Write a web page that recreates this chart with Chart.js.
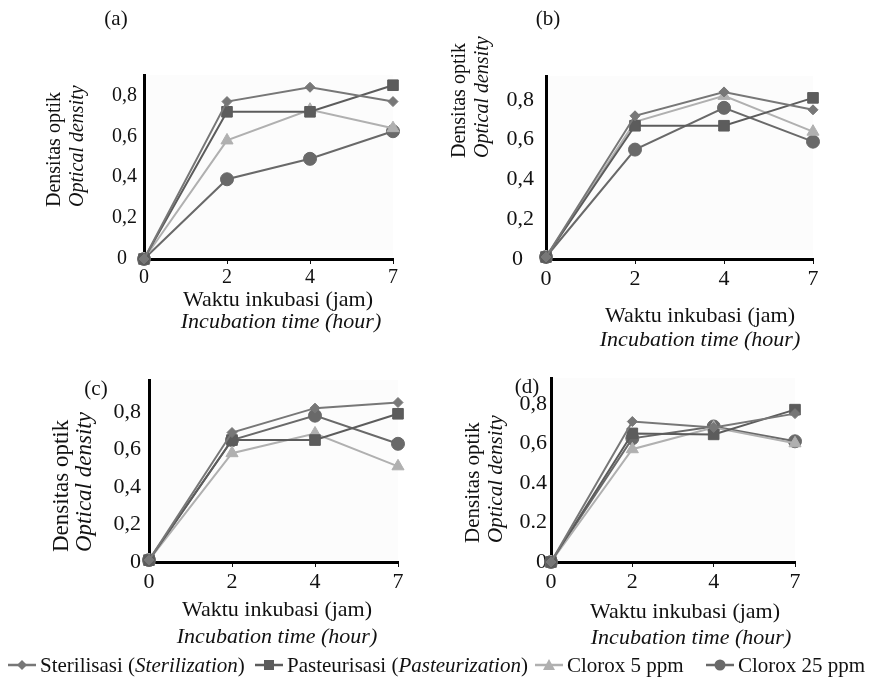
<!DOCTYPE html>
<html>
<head>
<meta charset="utf-8">
<script src="https://cdn.jsdelivr.net/npm/chart.js@4.4.1/dist/chart.umd.min.js"></script>
<style>
  body { margin: 0; background: #fff; width: 875px; height: 681px; position: relative; overflow: hidden; font-family: "Liberation Serif", serif; color: #111; }
  canvas.panel { position: absolute; }
  .item { position: absolute; top: 652px; height: 26px; display: flex; align-items: center; white-space: nowrap; font-size: 21px; }
  .item svg { margin-right: 4px; }
</style>
</head>
<body>
<canvas id="pa" class="panel"></canvas>
<canvas id="pb" class="panel"></canvas>
<canvas id="pc" class="panel"></canvas>
<canvas id="pd" class="panel"></canvas>
<div id="legend"></div>

<script>
// x categories (hours)
const hours = ['0', '2', '4', '7'];
const seriesNames = ['Sterilisasi', 'Pasteurisasi', 'Clorox 5 ppm', 'Clorox 25 ppm'];

// (a)
const sterA  = [0, 0.77, 0.84, 0.77];
const pastA  = [0, 0.72, 0.72, 0.85];
const clx5A  = [0, 0.58, 0.73, 0.64];
const clx25A = [0, 0.39, 0.49, 0.625];
// (b)
const sterB  = [0.01, 0.72, 0.84, 0.75];
const pastB  = [0.01, 0.67, 0.67, 0.81];
const clx5B  = [0.01, 0.69, 0.82, 0.64];
const clx25B = [0.01, 0.55, 0.76, 0.59];
// (c)
const sterC  = [0.01, 0.69, 0.82, 0.85];
const pastC  = [0.01, 0.65, 0.65, 0.79];
const clx5C  = [0.01, 0.58, 0.685, 0.51];
const clx25C = [0.01, 0.65, 0.78, 0.63];
// (d)
const sterD  = [0, 0.71, 0.68, 0.75];
const pastD  = [0, 0.65, 0.645, 0.77];
const clx5D  = [0, 0.57, 0.68, 0.60];
const clx25D = [0, 0.625, 0.685, 0.61];

const yTickVals = [0, 0.2, 0.4, 0.6, 0.8];
// in (a) and (b) the "0" sits centred under the other labels
const yTickLabelsAB = ['0\u2007', '0,2', '0,4', '0,6', '0,8'];
const yTickLabelsC = ['0', '0,2', '0,4', '0,6', '0,8'];
const yTickLabelsD = ['0', '0.2', '0.4', '0,6', '0,8'];

const yTitle = ['Densitas optik', 'Optical density'];
const xTitle = ['Waktu inkubasi (jam)', 'Incubation time (hour)'];

// marker look per series
const looks = [
  { color: '#777777', style: 'rectRot',  r: 5 },
  { color: '#5c5c5c', style: 'rect',     r: 7.5 },
  { color: '#b0b0b0', style: 'triangle', r: 7 },
  { color: '#696969', style: 'circle',   r: 6.5 }
];

const SERIF = '"Liberation Serif", "Times New Roman", serif';

// draws plot background, panel label and the two-line axis titles
const panelText = {
  id: 'panelText',
  beforeDatasetsDraw(chart) {
    const { ctx, chartArea: a } = chart;
    ctx.save();
    ctx.fillStyle = '#fcfcfc';
    ctx.fillRect(a.left + 2, a.top, a.right - a.left - 2, a.bottom - a.top - 2);
    ctx.restore();
  },
  afterDraw(chart, args, o) {
    const ctx = chart.ctx;
    ctx.save();
    ctx.fillStyle = '#111';
    ctx.textBaseline = 'middle';
    ctx.textAlign = 'center';
    ctx.font = o.labelSize + 'px ' + SERIF;
    ctx.fillText(o.label, o.labelPos[0], o.labelPos[1]);

    ctx.font = o.xSize + 'px ' + SERIF;
    ctx.fillText(xTitle[0], o.x1[0], o.x1[1]);
    ctx.font = 'italic ' + o.xSize + 'px ' + SERIF;
    ctx.fillText(xTitle[1], o.x2[0], o.x2[1]);

    ctx.textAlign = 'left';
    ctx.save();
    ctx.translate(o.y1, o.yBottom);
    ctx.rotate(-Math.PI / 2);
    ctx.font = o.ySize + 'px ' + SERIF;
    ctx.fillText(yTitle[0], 0, 0);
    ctx.restore();
    ctx.save();
    ctx.translate(o.y2, o.yBottom);
    ctx.rotate(-Math.PI / 2);
    ctx.font = 'italic ' + o.ySize + 'px ' + SERIF;
    ctx.fillText(yTitle[1], 0, 0);
    ctx.restore();
    ctx.restore();
  }
};

function makePanel(p) {
  const cv = document.getElementById(p.id);
  cv.width = p.box[2];
  cv.height = p.box[3];
  cv.style.left = p.box[0] + 'px';
  cv.style.top = p.box[1] + 'px';
  const [l, t, r, b] = p.area;

  const datasets = p.series.map((vals, i) => ({
    label: seriesNames[i],
    data: vals,
    borderColor: looks[i].color,
    backgroundColor: looks[i].color,
    borderWidth: 2,
    pointStyle: looks[i].style,
    pointRadius: looks[i].r,
    pointBorderWidth: 1,
    tension: 0,
    clip: false
  }));

  return new Chart(cv, {
    type: 'line',
    data: { labels: hours, datasets: datasets },
    plugins: [panelText],
    options: {
      responsive: false,
      animation: false,
      devicePixelRatio: 1,
      layout: { padding: { left: 0, top: t, right: p.box[2] - r, bottom: 0 } },
      plugins: {
        legend: { display: false },
        tooltip: { enabled: false },
        panelText: p.text
      },
      scales: {
        x: {
          offset: false,
          afterFit: s => { s.height = p.box[3] - b; },
          grid: { display: true, drawOnChartArea: false, drawTicks: true, tickLength: 5, color: '#111', lineWidth: 1 },
          border: { display: true, color: '#000', width: 3 },
          ticks: { color: '#111', padding: 2, font: { family: SERIF, size: p.tickSize } }
        },
        y: {
          min: 0,
          max: p.yMax,
          afterFit: s => { s.width = l; },
          afterBuildTicks: s => { s.ticks = yTickVals.map(v => ({ value: v })); },
          grid: { display: false, drawTicks: false, tickLength: 0 },
          border: { display: true, color: '#000', width: 3 },
          ticks: {
            color: '#111',
            padding: p.tickPad,
            font: { family: SERIF, size: p.tickSize },
            callback: (v, i) => p.tickLabels[i]
          }
        }
      }
    }
  });
}

makePanel({
  id: 'pa', box: [0, 0, 437, 345], area: [144, 75, 393, 259], yMax: 0.9,
  series: [sterA, pastA, clx5A, clx25A], tickSize: 20, tickPad: 7, tickLabels: yTickLabelsAB,
  text: { label: '(a)', labelPos: [116, 19], labelSize: 21, xSize: 22, x1: [278, 300], x2: [281, 322],
          ySize: 20, y1: 55, y2: 78, yBottom: 207 }
});
makePanel({
  id: 'pb', box: [437, 0, 438, 355], area: [109, 76, 376, 259], yMax: 0.92,
  series: [sterB, pastB, clx5B, clx25B], tickSize: 22, tickPad: 12, tickLabels: yTickLabelsAB,
  text: { label: '(b)', labelPos: [111, 19], labelSize: 21, xSize: 22, x1: [263, 316], x2: [263, 340],
          ySize: 20, y1: 23, y2: 46, yBottom: 158 }
});
makePanel({
  id: 'pc', box: [0, 345, 437, 310], area: [149, 35, 398, 217], yMax: 0.97,
  series: [sterC, pastC, clx5C, clx25C], tickSize: 22, tickPad: 8, tickLabels: yTickLabelsC,
  text: { label: '(c)', labelPos: [96, 44], labelSize: 21, xSize: 22, x1: [277, 265], x2: [277, 292],
          ySize: 23, y1: 62, y2: 85, yBottom: 207 }
});
makePanel({
  id: 'pd', box: [437, 355, 438, 300], area: [114, 23, 358, 207], yMax: 0.93,
  series: [sterD, pastD, clx5D, clx25D], tickSize: 22, tickPad: 4, tickLabels: yTickLabelsD,
  text: { label: '(d)', labelPos: [90, 32], labelSize: 21, xSize: 22, x1: [248, 257], x2: [254, 283],
          ySize: 21, y1: 36, y2: 59, yBottom: 188 }
});

// legend (HTML)
const legendItems = [
  { left: 8,   html: 'Sterilisasi (<i>Sterilization</i>)' },
  { left: 255, html: 'Pasteurisasi (<i>Pasteurization</i>)' },
  { left: 535, html: 'Clorox 5 ppm' },
  { left: 706, html: 'Clorox 25 ppm' }
];
function markerSvg(i) {
  const c = looks[i].color;
  let shape = '';
  if (looks[i].style === 'rectRot') shape = `<polygon points="14,3 19,8 14,13 9,8" fill="${c}"/>`;
  if (looks[i].style === 'rect') shape = `<rect x="9" y="3" width="10" height="10" fill="${c}"/>`;
  if (looks[i].style === 'triangle') shape = `<polygon points="14,2 20,13 8,13" fill="${c}"/>`;
  if (looks[i].style === 'circle') shape = `<circle cx="14" cy="8" r="5.5" fill="${c}"/>`;
  return `<svg width="28" height="16"><line x1="0" y1="8" x2="28" y2="8" stroke="${c}" stroke-width="2.5"/>${shape}</svg>`;
}
const lg = document.getElementById('legend');
legendItems.forEach((it, i) => {
  const d = document.createElement('div');
  d.className = 'item';
  d.style.left = it.left + 'px';
  d.innerHTML = markerSvg(i) + '<span>' + it.html + '</span>';
  lg.appendChild(d);
});
</script>
</body>
</html>
